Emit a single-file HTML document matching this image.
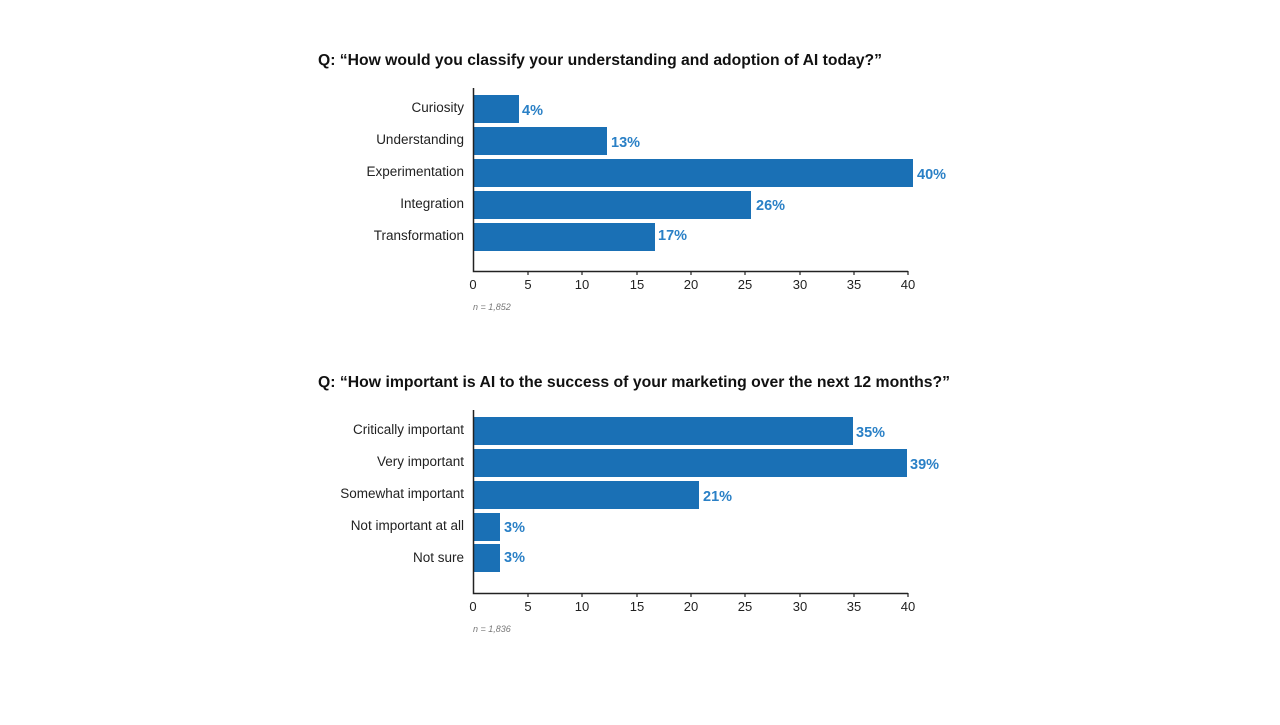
<!DOCTYPE html>
<html><head><style>
body{margin:0;background:#fff;}
svg text{font-family:"Liberation Sans",sans-serif;}
</style></head><body>
<svg width="1280" height="720" xmlns="http://www.w3.org/2000/svg">
<g id="c1">
<text x="318" y="65" font-size="16" font-weight="bold" fill="#111" textLength="564" lengthAdjust="spacingAndGlyphs">Q: “How would you classify your understanding and adoption of AI today?”</text>
<g fill="#1a70b5">
<rect x="473" y="95" width="46" height="28"/>
<rect x="473" y="127" width="134" height="28"/>
<rect x="473" y="159" width="440" height="28"/>
<rect x="473" y="191" width="278" height="28"/>
<rect x="473" y="223" width="182" height="28"/>
</g>
<g font-size="13.5" fill="#222" text-anchor="end">
<text x="464" y="112">Curiosity</text>
<text x="464" y="144">Understanding</text>
<text x="464" y="176">Experimentation</text>
<text x="464" y="208">Integration</text>
<text x="464" y="240">Transformation</text>
</g>
<g font-size="14.5" font-weight="bold" fill="#2a80c6">
<text x="522" y="115">4%</text>
<text x="611" y="147">13%</text>
<text x="917" y="179">40%</text>
<text x="756" y="210">26%</text>
<text x="658" y="240">17%</text>
</g>
<path d="M473.5 88V271.5H908" stroke="#222" stroke-width="1.5" fill="none"/>
<g stroke="#222" stroke-width="1.2">
<path d="M528 271v4M582 271v4M637 271v4M691 271v4M745 271v4M800 271v4M854 271v4M908 271v4"/>
</g>
<g font-size="13" fill="#222" text-anchor="middle">
<text x="473" y="289">0</text><text x="528" y="289">5</text><text x="582" y="289">10</text><text x="637" y="289">15</text><text x="691" y="289">20</text><text x="745" y="289">25</text><text x="800" y="289">30</text><text x="854" y="289">35</text><text x="908" y="289">40</text>
</g>
<text x="473" y="310" font-size="9" font-style="italic" fill="#777">n = 1,852</text>
</g>
<g transform="translate(0,322)">
<text x="318" y="65" font-size="16" font-weight="bold" fill="#111" textLength="632" lengthAdjust="spacingAndGlyphs">Q: “How important is AI to the success of your marketing over the next 12 months?”</text>
<g fill="#1a70b5">
<rect x="473" y="95" width="380" height="28"/>
<rect x="473" y="127" width="434" height="28"/>
<rect x="473" y="159" width="226" height="28"/>
<rect x="473" y="191" width="27" height="28"/>
<rect x="473" y="222" width="27" height="28"/>
</g>
<g font-size="13.5" fill="#222" text-anchor="end">
<text x="464" y="112">Critically important</text>
<text x="464" y="144">Very important</text>
<text x="464" y="176">Somewhat important</text>
<text x="464" y="208">Not important at all</text>
<text x="464" y="240">Not sure</text>
</g>
<g font-size="14.5" font-weight="bold" fill="#2a80c6">
<text x="856" y="115">35%</text>
<text x="910" y="147">39%</text>
<text x="703" y="179">21%</text>
<text x="504" y="210">3%</text>
<text x="504" y="240">3%</text>
</g>
<path d="M473.5 88V271.5H908" stroke="#222" stroke-width="1.5" fill="none"/>
<g stroke="#222" stroke-width="1.2">
<path d="M528 271v4M582 271v4M637 271v4M691 271v4M745 271v4M800 271v4M854 271v4M908 271v4"/>
</g>
<g font-size="13" fill="#222" text-anchor="middle">
<text x="473" y="289">0</text><text x="528" y="289">5</text><text x="582" y="289">10</text><text x="637" y="289">15</text><text x="691" y="289">20</text><text x="745" y="289">25</text><text x="800" y="289">30</text><text x="854" y="289">35</text><text x="908" y="289">40</text>
</g>
<text x="473" y="310" font-size="9" font-style="italic" fill="#777">n = 1,836</text>
</g>
</svg>
</body></html>
